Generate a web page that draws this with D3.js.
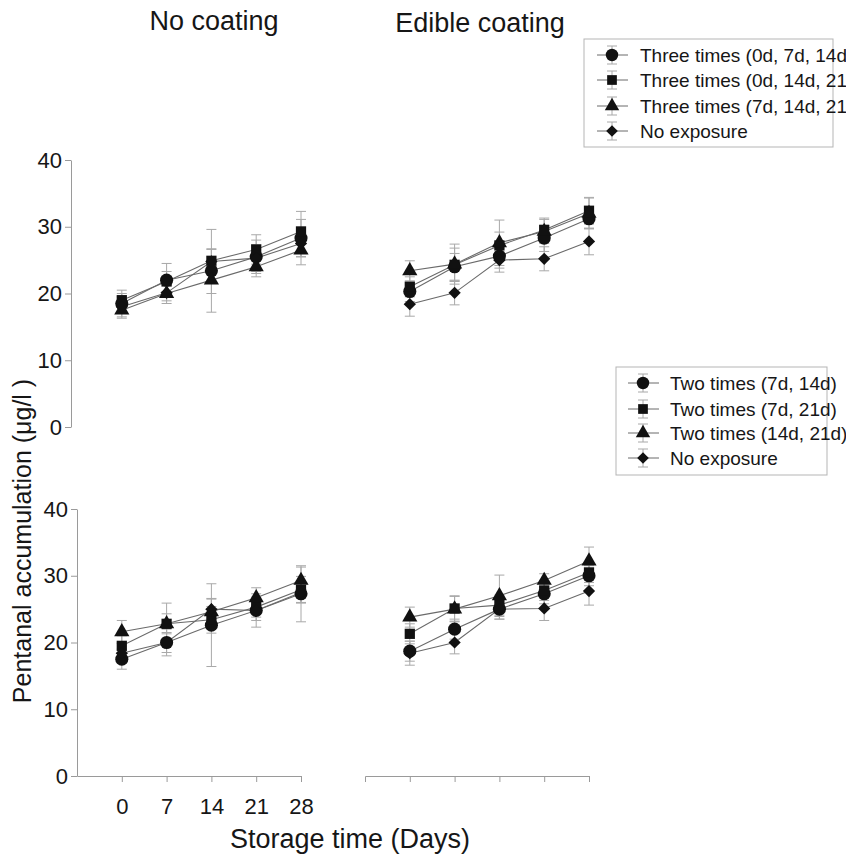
<!DOCTYPE html>
<html>
<head>
<meta charset="utf-8">
<script src="https://cdn.jsdelivr.net/npm/d3@7"></script>
<style>
  body { margin: 0; background: #fff; }
  svg { font-family: Arial, "Liberation Sans", Helvetica, sans-serif; }
</style>
</head>
<body>
<div id="chart"></div>
<script>
// storage days
const days = [0, 7, 14, 21, 28]
const yTicks = [0, 10, 20, 30, 40]

// legend names
const threeNames = ['Three times (0d, 7d, 14d)', 'Three times (0d, 14d, 21d)', 'Three times (7d, 14d, 21d)', 'No exposure']
const twoNames = ['Two times (7d, 14d)', 'Two times (7d, 21d)', 'Two times (14d, 21d)', 'No exposure']

// No coating, three exposures: circle, square, triangle, diamond
const noCoatThree = [
  [18.5, 22.0, 23.4, 25.5, 28.3],
  [19.0, 21.8, 24.9, 26.6, 29.3],
  [17.5, 20.0, 22.0, 24.0, 26.5],
  [18.0, 20.1, 24.8, 25.3, 27.5]
]
const noCoatThreeErr = [
  [1.5, 2.5, 6.2, 2.5, 2.8],
  [1.5, 1.5, 1.8, 2.2, 3.0],
  [1.2, 1.5, 2.0, 1.5, 2.2],
  [1.5, 1.2, 1.8, 2.0, 2.0]
]

// Edible coating, three exposures
const coatThree = [
  [20.3, 24.0, 25.6, 28.3, 31.2],
  [21.0, 24.3, 27.2, 29.5, 32.4],
  [23.4, 24.4, 27.6, 29.3, 32.0],
  [18.4, 20.1, 25.0, 25.2, 27.8]
]
const coatThreeErr = [
  [1.5, 2.0, 1.8, 2.0, 1.5],
  [1.5, 2.5, 2.0, 1.8, 2.0],
  [1.5, 3.0, 3.4, 1.8, 2.3],
  [1.8, 1.8, 1.8, 1.8, 2.0]
]

// No coating, two exposures
const noCoatTwo = [
  [17.5, 20.0, 22.6, 24.8, 27.3],
  [19.5, 22.8, 23.4, 25.3, 27.9],
  [21.6, 22.8, 24.6, 26.7, 29.3],
  [18.4, 20.0, 25.0, 24.8, 27.5]
]
const noCoatTwoErr = [
  [1.5, 2.0, 6.2, 2.5, 4.2],
  [1.5, 3.1, 2.0, 1.5, 2.0],
  [1.7, 1.5, 2.0, 1.5, 2.0],
  [1.5, 1.5, 1.5, 1.5, 1.5]
]

// Edible coating, two exposures
const coatTwo = [
  [18.7, 22.0, 25.0, 27.3, 30.0],
  [21.3, 25.1, 25.6, 27.8, 30.5],
  [23.8, 25.0, 27.0, 29.3, 32.2],
  [18.4, 20.0, 25.0, 25.1, 27.7]
]
const coatTwoErr = [
  [1.5, 1.5, 1.5, 1.5, 1.5],
  [1.5, 1.9, 1.5, 1.5, 1.5],
  [1.5, 1.9, 3.1, 1.0, 2.1],
  [1.8, 1.7, 1.5, 1.8, 2.1]
]

const W = 846, H = 865
const svg = d3.select('#chart').append('svg').attr('width', W).attr('height', H)

// diamond = square turned 45 degrees
const symbolTypes = [d3.symbolCircle, d3.symbolSquare, d3.symbolTriangle, d3.symbolSquare]
const symbolSizes = [135, 105, 100, 75]
const symbolRot = [0, 0, 0, 45]
const lineColor = '#6a6a6a', errColor = '#a8a8a8', axisColor = '#9a9a9a', textColor = '#161616'

// scales
const xLeft = d3.scaleLinear().domain([-7, 28]).range([77, 301])
const xRight = d3.scaleLinear().domain([-7, 28]).range([365, 589])
const yTop = d3.scaleLinear().domain([0, 40]).range([427, 160])
const yBot = d3.scaleLinear().domain([0, 40]).range([776, 509])

function drawPanel(x, y, vals, errs) {
  const g = svg.append('g')
  const line = d3.line().x((d, i) => x(days[i])).y(d => y(d))
  // lines
  vals.forEach((s) => {
    g.append('path').attr('d', line(s)).attr('fill', 'none')
      .attr('stroke', lineColor).attr('stroke-width', 1.1)
  })
  // error bars
  vals.forEach((s, k) => {
    s.forEach((v, i) => {
      const cx = x(days[i]), e = errs[k][i]
      const eg = g.append('g').attr('stroke', errColor).attr('stroke-width', 1)
      eg.append('line').attr('x1', cx).attr('x2', cx).attr('y1', y(v - e)).attr('y2', y(v + e))
      eg.append('line').attr('x1', cx - 5).attr('x2', cx + 5).attr('y1', y(v - e)).attr('y2', y(v - e))
      eg.append('line').attr('x1', cx - 5).attr('x2', cx + 5).attr('y1', y(v + e)).attr('y2', y(v + e))
    })
  })
  // markers
  vals.forEach((s, k) => {
    g.selectAll(null).data(s).join('path')
      .attr('transform', (d, i) => `translate(${x(days[i])},${y(d)}) rotate(${symbolRot[k]})`)
      .attr('d', d3.symbol().type(symbolTypes[k]).size(symbolSizes[k]))
      .attr('fill', '#111')
  })
}

drawPanel(xLeft, yTop, noCoatThree, noCoatThreeErr)
drawPanel(xRight, yTop, coatThree, coatThreeErr)
drawPanel(xLeft, yBot, noCoatTwo, noCoatTwoErr)
drawPanel(xRight, yBot, coatTwo, coatTwoErr)

function styleAxis(g) {
  g.select('.domain').attr('stroke', axisColor)
  g.selectAll('.tick line').attr('stroke', axisColor)
  g.selectAll('.tick text').attr('fill', textColor).style('font-size', '22px')
  g.attr('font-family', null)
}

// y axes (the top one sits a little further left, as in the original)
svg.append('g').attr('transform', `translate(${xLeft(-7) - 6},0)`)
  .call(d3.axisLeft(yTop).tickValues(yTicks).tickSize(6).tickSizeOuter(0).tickPadding(3))
  .call(styleAxis)

svg.append('g').attr('transform', `translate(${xLeft(-7)},0)`)
  .call(d3.axisLeft(yBot).tickValues(yTicks).tickSize(6).tickSizeOuter(0).tickPadding(3))
  .call(styleAxis)

// x axes
svg.append('g').attr('transform', `translate(0,${yBot(0)})`)
  .call(d3.axisBottom(xLeft).tickValues(days).tickSize(6).tickSizeOuter(0).tickPadding(16))
  .call(styleAxis)

svg.append('g').attr('transform', `translate(0,${yBot(0)})`)
  .call(d3.axisBottom(xRight).tickValues(days).tickSize(6).tickSizeOuter(6).tickFormat(''))
  .call(styleAxis)

// titles
svg.append('text').attr('x', 214).attr('y', 30).attr('text-anchor', 'middle')
  .attr('fill', textColor).style('font-size', '27px').text('No coating')
svg.append('text').attr('x', 480).attr('y', 32).attr('text-anchor', 'middle')
  .attr('fill', textColor).style('font-size', '27px').text('Edible coating')

svg.append('text').attr('transform', 'translate(31,541) rotate(-90)').attr('text-anchor', 'middle')
  .attr('fill', textColor).style('font-size', '25px').text('Pentanal accumulation (μg/l )')

svg.append('text').attr('x', 350).attr('y', 848).attr('text-anchor', 'middle')
  .attr('fill', textColor).style('font-size', '27px').text('Storage time (Days)')

// legends
function drawLegend(names, bx, by, bw, bh, mx, tx, rowY) {
  const lg = svg.append('g')
  lg.append('rect').attr('x', bx).attr('y', by).attr('width', bw).attr('height', bh)
    .attr('fill', '#fff').attr('stroke', '#b5b5b5').attr('stroke-width', 1)
  names.forEach((n, k) => {
    const cy = rowY[k]
    lg.append('line').attr('x1', mx - 15).attr('x2', mx + 16).attr('y1', cy).attr('y2', cy)
      .attr('stroke', lineColor).attr('stroke-width', 1)
    lg.append('line').attr('x1', mx).attr('x2', mx).attr('y1', cy - 9).attr('y2', cy + 9).attr('stroke', errColor)
    lg.append('line').attr('x1', mx - 5).attr('x2', mx + 5).attr('y1', cy - 9).attr('y2', cy - 9).attr('stroke', errColor)
    lg.append('line').attr('x1', mx - 5).attr('x2', mx + 5).attr('y1', cy + 9).attr('y2', cy + 9).attr('stroke', errColor)
    lg.append('path').attr('transform', `translate(${mx},${cy}) rotate(${symbolRot[k]})`)
      .attr('d', d3.symbol().type(symbolTypes[k]).size(symbolSizes[k] * 0.9)).attr('fill', '#111')
    lg.append('text').attr('x', tx).attr('y', cy).attr('dy', '0.36em')
      .attr('fill', textColor).style('font-size', '19px').text(n)
  })
}

drawLegend(threeNames, 584, 39, 249, 108, 612, 640, [55, 80, 106, 131])
drawLegend(twoNames, 616, 367, 211, 108, 643, 670, [383, 409, 433, 458])
</script>
</body>
</html>
